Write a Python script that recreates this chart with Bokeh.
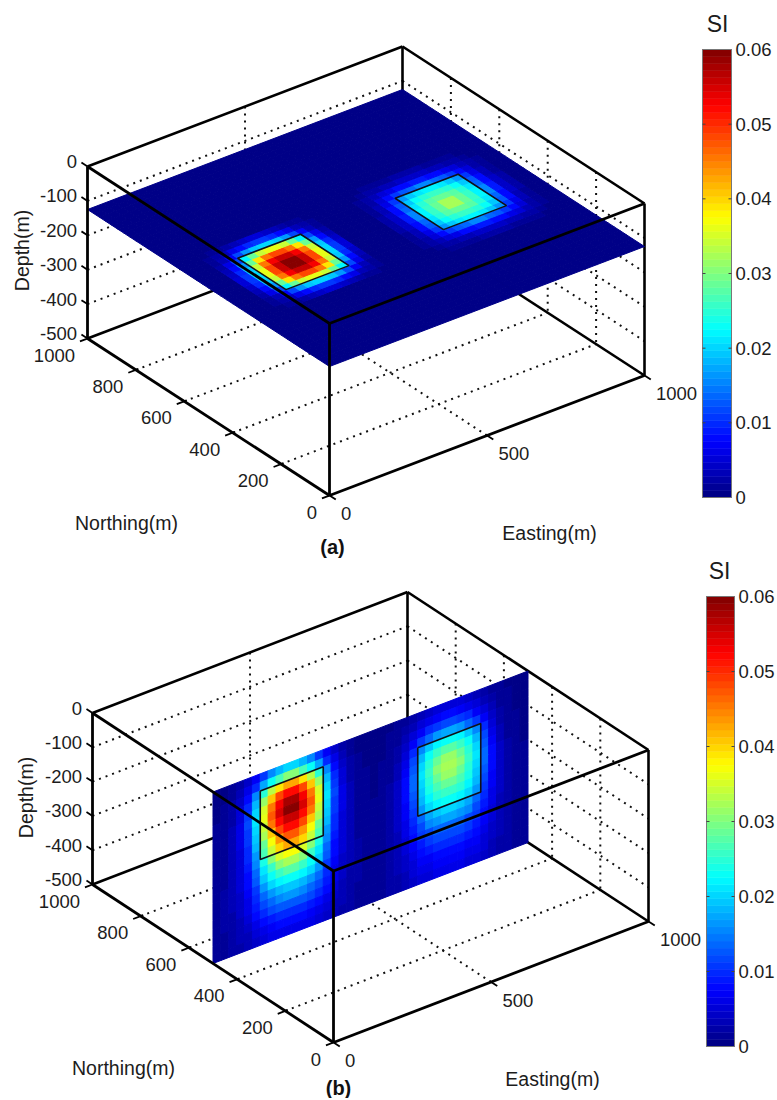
import numpy as np
from bokeh.core.properties import value
from bokeh.embed import file_html
from bokeh.layouts import column
from bokeh.models import Range1d
from bokeh.plotting import figure
from bokeh.resources import INLINE

# ---------- data: susceptibility, in 0.001 SI ----------
cell_size = 25  # metres
depth_ticks = [0, -100, -200, -300, -400, -500]
north_ticks = [0, 200, 400, 600, 800, 1000]
east_ticks = [0, 500, 1000]
colorbar_ticks = [0, 0.01, 0.02, 0.03, 0.04, 0.05, 0.06]
colorbar_labels = ["0", "0.01", "0.02", "0.03", "0.04", "0.05", "0.06"]

# block outlines: (east0, east1, north0, north1, depth0, depth1)
block_west = (150, 350, 375, 575, -50, -250)
block_east = (650, 850, 375, 575, -100, -300)
horizontal_slice_depth = -125
vertical_slice_north = 500

# horizontal slice (a): rows go along northing from north index 12, cols along easting from index 3
a_west_north_start, a_west_east_start = 12, 3
a_west = [
    [0, 1, 1, 2, 3, 4, 5, 5, 4, 3, 2, 1, 1, 0],
    [1, 2, 3, 6, 8, 10, 11, 11, 10, 8, 6, 3, 2, 1],
    [1, 3, 7, 12, 16, 19, 20, 20, 19, 16, 12, 7, 3, 1],
    [2, 6, 12, 22, 29, 34, 36, 36, 34, 29, 22, 12, 6, 2],
    [3, 8, 16, 29, 39, 45, 48, 48, 45, 39, 29, 16, 8, 3],
    [4, 10, 19, 34, 45, 53, 56, 56, 53, 45, 34, 19, 10, 4],
    [5, 11, 20, 36, 48, 56, 60, 60, 56, 48, 36, 20, 11, 5],
    [5, 11, 20, 36, 48, 56, 60, 60, 56, 48, 36, 20, 11, 5],
    [4, 10, 19, 34, 45, 53, 56, 56, 53, 45, 34, 19, 10, 4],
    [3, 8, 16, 29, 39, 45, 48, 48, 45, 39, 29, 16, 8, 3],
    [2, 6, 12, 22, 29, 34, 36, 36, 34, 29, 22, 12, 6, 2],
    [1, 3, 7, 12, 16, 19, 20, 20, 19, 16, 12, 7, 3, 1],
    [1, 2, 3, 6, 8, 10, 11, 11, 10, 8, 6, 3, 2, 1],
    [0, 1, 1, 2, 3, 4, 5, 5, 4, 3, 2, 1, 1, 0],
]
a_east_north_start, a_east_east_start = 11, 22
a_east = [
    [0, 0, 1, 1, 1, 1, 2, 2, 2, 2, 1, 1, 1, 1, 0, 0],
    [0, 1, 2, 2, 3, 3, 4, 4, 4, 4, 3, 3, 2, 2, 1, 0],
    [1, 2, 3, 5, 6, 8, 8, 9, 9, 8, 8, 6, 5, 3, 2, 1],
    [1, 2, 5, 8, 11, 13, 14, 15, 15, 14, 13, 11, 8, 5, 2, 1],
    [1, 3, 6, 11, 16, 19, 21, 22, 22, 21, 19, 16, 11, 6, 3, 1],
    [1, 3, 8, 13, 19, 23, 25, 26, 26, 25, 23, 19, 13, 8, 3, 1],
    [2, 4, 8, 14, 21, 25, 28, 29, 29, 28, 25, 21, 14, 8, 4, 2],
    [2, 4, 9, 15, 22, 26, 29, 32, 32, 29, 26, 22, 15, 9, 4, 2],
    [2, 4, 9, 15, 22, 26, 29, 32, 32, 29, 26, 22, 15, 9, 4, 2],
    [2, 4, 8, 14, 21, 25, 28, 29, 29, 28, 25, 21, 14, 8, 4, 2],
    [1, 3, 8, 13, 19, 23, 25, 26, 26, 25, 23, 19, 13, 8, 3, 1],
    [1, 3, 6, 11, 16, 19, 21, 22, 22, 21, 19, 16, 11, 6, 3, 1],
    [1, 2, 5, 8, 11, 13, 14, 15, 15, 14, 13, 11, 8, 5, 2, 1],
    [1, 2, 3, 5, 6, 8, 8, 9, 9, 8, 8, 6, 5, 3, 2, 1],
    [0, 1, 2, 2, 3, 3, 4, 4, 4, 4, 3, 3, 2, 2, 1, 0],
    [0, 0, 1, 1, 1, 1, 2, 2, 2, 2, 1, 1, 1, 1, 0, 0],
]

# vertical slice (b): rows go down in depth, cols along easting; west half and east half
b_west = [
    [0, 0, 1, 2, 4, 7, 11, 15, 18, 20, 20, 18, 15, 11, 7, 4, 2, 1, 0, 0],
    [0, 0, 1, 3, 6, 10, 17, 23, 27, 30, 30, 27, 23, 17, 10, 6, 3, 1, 0, 0],
    [0, 1, 2, 4, 8, 15, 25, 33, 39, 43, 43, 39, 33, 25, 15, 8, 4, 2, 1, 0],
    [0, 1, 2, 5, 10, 18, 31, 41, 48, 52, 52, 48, 41, 31, 18, 10, 5, 2, 1, 0],
    [1, 1, 2, 5, 11, 20, 35, 45, 53, 58, 58, 53, 45, 35, 20, 11, 5, 2, 1, 1],
    [1, 1, 3, 6, 12, 21, 36, 47, 55, 60, 60, 55, 47, 36, 21, 12, 6, 3, 1, 1],
    [1, 1, 3, 6, 11, 20, 34, 45, 52, 56, 56, 52, 45, 34, 20, 11, 6, 3, 1, 1],
    [1, 1, 3, 6, 11, 19, 32, 41, 48, 52, 52, 48, 41, 32, 19, 11, 6, 3, 1, 1],
    [1, 1, 3, 5, 10, 18, 29, 37, 44, 47, 47, 44, 37, 29, 18, 10, 5, 3, 1, 1],
    [1, 1, 3, 5, 10, 16, 27, 34, 40, 43, 43, 40, 34, 27, 16, 10, 5, 3, 1, 1],
    [1, 1, 3, 5, 9, 15, 24, 30, 35, 37, 37, 35, 30, 24, 15, 9, 5, 3, 1, 1],
    [1, 1, 3, 5, 8, 14, 21, 26, 30, 32, 32, 30, 26, 21, 14, 8, 5, 3, 1, 1],
    [1, 2, 3, 5, 8, 13, 19, 23, 26, 28, 28, 26, 23, 19, 13, 8, 5, 3, 2, 1],
    [1, 2, 3, 4, 7, 11, 16, 20, 22, 23, 23, 22, 20, 16, 11, 7, 4, 3, 2, 1],
    [1, 2, 3, 4, 6, 10, 14, 16, 18, 19, 19, 18, 16, 14, 10, 6, 4, 3, 2, 1],
    [1, 2, 2, 4, 6, 9, 12, 14, 15, 16, 16, 15, 14, 12, 9, 6, 4, 2, 2, 1],
    [1, 2, 2, 3, 5, 8, 10, 12, 13, 13, 13, 13, 12, 10, 8, 5, 3, 2, 2, 1],
    [1, 1, 2, 3, 4, 6, 8, 9, 10, 10, 10, 10, 9, 8, 6, 4, 3, 2, 1, 1],
    [1, 1, 2, 3, 3, 5, 6, 7, 8, 8, 8, 8, 7, 6, 5, 3, 3, 2, 1, 1],
    [1, 1, 2, 2, 3, 4, 5, 6, 6, 6, 6, 6, 6, 5, 4, 3, 2, 2, 1, 1],
]
b_east = [
    [0, 0, 0, 1, 1, 2, 3, 4, 5, 5, 5, 5, 4, 3, 2, 1, 1, 0, 0, 0],
    [0, 0, 1, 1, 2, 3, 5, 6, 7, 8, 8, 7, 6, 5, 3, 2, 1, 1, 0, 0],
    [0, 0, 1, 1, 3, 5, 7, 10, 11, 12, 12, 11, 10, 7, 5, 3, 1, 1, 0, 0],
    [0, 0, 1, 2, 4, 7, 11, 14, 16, 17, 17, 16, 14, 11, 7, 4, 2, 1, 0, 0],
    [0, 1, 1, 2, 5, 10, 15, 19, 22, 23, 23, 22, 19, 15, 10, 5, 2, 1, 1, 0],
    [0, 1, 1, 3, 6, 12, 18, 23, 26, 28, 28, 26, 23, 18, 12, 6, 3, 1, 1, 0],
    [0, 1, 1, 3, 7, 13, 20, 25, 29, 31, 31, 29, 25, 20, 13, 7, 3, 1, 1, 0],
    [0, 1, 2, 4, 8, 14, 21, 26, 30, 32, 32, 30, 26, 21, 14, 8, 4, 2, 1, 0],
    [1, 1, 2, 4, 8, 14, 20, 25, 29, 31, 31, 29, 25, 20, 14, 8, 4, 2, 1, 1],
    [1, 1, 2, 4, 8, 13, 19, 24, 27, 29, 29, 27, 24, 19, 13, 8, 4, 2, 1, 1],
    [1, 1, 2, 4, 7, 12, 18, 22, 25, 26, 26, 25, 22, 18, 12, 7, 4, 2, 1, 1],
    [1, 1, 2, 4, 7, 11, 16, 20, 22, 23, 23, 22, 20, 16, 11, 7, 4, 2, 1, 1],
    [1, 1, 2, 4, 6, 10, 14, 17, 19, 20, 20, 19, 17, 14, 10, 6, 4, 2, 1, 1],
    [1, 1, 2, 3, 6, 9, 12, 15, 16, 17, 17, 16, 15, 12, 9, 6, 3, 2, 1, 1],
    [1, 1, 2, 3, 5, 8, 11, 12, 14, 14, 14, 14, 12, 11, 8, 5, 3, 2, 1, 1],
    [1, 1, 2, 3, 5, 7, 9, 11, 12, 12, 12, 12, 11, 9, 7, 5, 3, 2, 1, 1],
    [1, 1, 2, 3, 4, 6, 8, 9, 10, 10, 10, 10, 9, 8, 6, 4, 3, 2, 1, 1],
    [1, 1, 2, 3, 4, 5, 7, 7, 8, 8, 8, 8, 7, 7, 5, 4, 3, 2, 1, 1],
    [1, 1, 2, 2, 3, 5, 6, 6, 7, 7, 7, 7, 6, 6, 5, 3, 2, 2, 1, 1],
    [1, 1, 2, 2, 3, 4, 5, 5, 6, 6, 6, 6, 5, 5, 4, 3, 2, 2, 1, 1],
]

# ---------- layout ----------
FONT = value("Liberation Sans")
INK = "#1c1c1c"
TICK_PX = "18.5px"
TITLE_PX = "19.5px"
PAGE_X = (0, 776)

PANEL_A = dict(
    y_range=(558, 0), origin=(329, 495), east=(0.315, -0.120), north=(-0.242, -0.157), depth=0.344,
    cbar=(702, 731, 49, 497), si=(717, 23), letter="(a)", letter_xy=(332, 546),
    depth_xy=(21, 250), north_xy=(126, 522), east_xy=(549, 532),
)
PANEL_B = dict(
    y_range=(1098, 558), origin=(333, 1042), east=(0.315, -0.121), north=(-0.241, -0.158), depth=0.343,
    cbar=(706, 734, 596, 1046), si=(719, 570), letter="(b)", letter_xy=(338, 1087),
    depth_xy=(25, 797), north_xy=(123, 1067), east_xy=(552, 1078),
)


def jet(v):
    i = min(int(v / 0.06 * 64), 63)
    t = (i + 0.5) / 64
    r = np.clip(min(4 * t - 1.5, -4 * t + 4.5), 0, 1)
    g = np.clip(min(4 * t - 0.5, -4 * t + 3.5), 0, 1)
    b = np.clip(min(4 * t + 0.5, -4 * t + 2.5), 0, 1)
    return "#%02x%02x%02x" % (int(r * 255), int(g * 255), int(b * 255))


def draw_panel(g, kind):
    ox, oy = g["origin"]
    ex, ey = g["east"]
    nx, ny = g["north"]
    dz = g["depth"]

    def sx(e, n):
        return ox + ex * e + nx * n

    def sy(e, n, d):
        return oy + ey * e + ny * n - dz * (d + 500)

    def seg(a, b):
        return [sx(a[0], a[1]), sx(b[0], b[1])], [sy(*a), sy(*b)]

    def lines(p, segs, **kw):
        xs, ys = zip(*[seg(a, b) for a, b in segs])
        p.multi_line(list(xs), list(ys), line_color="black", **kw)

    p = figure(
        width=PAGE_X[1] - PAGE_X[0], height=g["y_range"][0] - g["y_range"][1],
        x_range=Range1d(*PAGE_X), y_range=Range1d(*g["y_range"]),
        x_axis_location=None, y_axis_location=None, toolbar_location=None,
        output_backend="svg", min_border=0, outline_line_color=None,
    )
    p.grid.visible = False

    # dotted grids on back walls and floor
    dots = []
    for d in depth_ticks[1:-1]:
        dots.append(((0, 1000, d), (1000, 1000, d)))
        dots.append(((1000, 1000, d), (1000, 0, d)))
    for n in north_ticks[1:-1]:
        dots.append(((1000, n, 0), (1000, n, -500)))
        dots.append(((0, n, -500), (1000, n, -500)))
    dots.append(((500, 1000, 0), (500, 1000, -500)))
    dots.append(((500, 0, -500), (500, 1000, -500)))
    xs, ys = zip(*[seg(a, b) for a, b in dots])
    p.multi_line(list(xs), list(ys), line_color="#111111", line_width=2, line_dash="2 5")

    # back edges of the box
    back = [
        ((0, 1000, 0), (1000, 1000, 0)), ((1000, 1000, 0), (1000, 0, 0)),
        ((1000, 1000, 0), (1000, 1000, -500)), ((0, 1000, -500), (1000, 1000, -500)),
        ((1000, 1000, -500), (1000, 0, -500)), ((1000, 0, 0), (1000, 0, -500)),
    ]
    lines(p, back, line_width=2.6)

    # the slice
    px, py, col = [], [], []
    if kind == "horizontal":
        grid = np.zeros((40, 40), dtype=int)
        for table, n0, e0 in ((a_west, a_west_north_start, a_west_east_start),
                              (a_east, a_east_north_start, a_east_east_start)):
            t = np.array(table)
            grid[n0:n0 + t.shape[0], e0:e0 + t.shape[1]] = t
        d = horizontal_slice_depth
        for i in range(40):
            for j in range(40):
                e0, e1 = j * cell_size, (j + 1) * cell_size
                n0, n1 = i * cell_size, (i + 1) * cell_size
                corners = [(e0, n0), (e1, n0), (e1, n1), (e0, n1)]
                px.append([sx(a, b) for a, b in corners])
                py.append([sy(a, b, d) for a, b in corners])
                col.append(jet(grid[i, j] / 1000))
        outlines = []
        for b in (block_west, block_east):
            c = [(b[0], b[2]), (b[1], b[2]), (b[1], b[3]), (b[0], b[3]), (b[0], b[2])]
            outlines.append(([sx(a, q) for a, q in c], [sy(a, q, d) for a, q in c]))
    else:
        grid = np.hstack([np.array(b_west), np.array(b_east)])
        n = vertical_slice_north
        for i in range(grid.shape[0]):
            for j in range(grid.shape[1]):
                e0, e1 = j * cell_size, (j + 1) * cell_size
                d0, d1 = -i * cell_size, -(i + 1) * cell_size
                corners = [(e0, d0), (e1, d0), (e1, d1), (e0, d1)]
                px.append([sx(a, n) for a, _ in corners])
                py.append([sy(a, n, q) for a, q in corners])
                col.append(jet(grid[i, j] / 1000))
        outlines = []
        for b in (block_west, block_east):
            c = [(b[0], b[4]), (b[1], b[4]), (b[1], b[5]), (b[0], b[5]), (b[0], b[4])]
            outlines.append(([sx(a, n) for a, _ in c], [sy(a, n, q) for a, q in c]))
    p.patches(px, py, fill_color=col, line_color=col, line_width=1)
    p.multi_line([o[0] for o in outlines], [o[1] for o in outlines],
                 line_color="#101018", line_width=1.6)

    # front edges and axes
    front = [
        ((0, 1000, 0), (0, 0, 0)), ((0, 0, 0), (1000, 0, 0)), ((0, 0, 0), (0, 0, -500)),
        ((0, 1000, 0), (0, 1000, -500)), ((0, 1000, -500), (0, 0, -500)),
        ((0, 0, -500), (1000, 0, -500)),
    ]
    lines(p, front, line_width=2.8)

    # tick marks
    ticks = [((0, 1000, d), (0, 1025, d)) for d in depth_ticks]
    ticks += [((-24, n, -500), (8, n, -500)) for n in north_ticks]
    ticks += [((e, -26, -500), (e, 6, -500)) for e in east_ticks]
    lines(p, ticks, line_width=1.8)

    # tick labels
    tx = dict(text_font=FONT, text_font_size=value(TICK_PX), text_color=INK, text_baseline="middle")
    p.text([sx(0, 1000) - 10.5] * len(depth_ticks),
           [sy(0, 1000, d) - 5 for d in depth_ticks],
           text=[str(d) for d in depth_ticks], text_align="right", **tx)
    p.text([sx(0, n) - 12.5 for n in north_ticks],
           [sy(0, n, -500) + 16.5 for n in north_ticks],
           text=[str(n) for n in north_ticks], text_align="right", **tx)
    p.text([sx(e, 0) + 11.5 for e in east_ticks],
           [sy(e, 0, -500) + 18 for e in east_ticks],
           text=[str(e) for e in east_ticks], text_align="left", **tx)

    # axis titles
    tt = dict(text_font=FONT, text_font_size=value(TITLE_PX), text_color=INK,
              text_baseline="middle", text_align="center")
    p.text([g["depth_xy"][0]], [g["depth_xy"][1]], text=["Depth(m)"], angle=np.pi / 2, **tt)
    p.text([g["north_xy"][0]], [g["north_xy"][1]], text=["Northing(m)"], **tt)
    p.text([g["east_xy"][0]], [g["east_xy"][1]], text=["Easting(m)"], **tt)
    p.text([g["letter_xy"][0]], [g["letter_xy"][1]], text=[g["letter"]],
           text_font=FONT, text_font_size=value("20px"), text_font_style="bold",
           text_color="#111111", text_baseline="middle", text_align="center")

    # colour bar
    x0, x1, top, bot = g["cbar"]
    def cy(v):
        return bot + (top - bot) * v / 0.06
    levels = np.arange(64)
    p.quad(left=x0, right=x1,
           bottom=[cy(k * 0.06 / 64) for k in levels],
           top=[cy((k + 1) * 0.06 / 64) for k in levels],
           fill_color=[jet((k + 0.5) * 0.06 / 64) for k in levels],
           line_color=[jet((k + 0.5) * 0.06 / 64) for k in levels], line_width=0.5)
    p.quad(left=[x0], right=[x1], top=[cy(0.06)], bottom=[cy(0)], fill_color=None,
           line_color="#777777", line_width=1)
    inner = colorbar_ticks[1:-1]
    p.multi_line([[x0, x0 + 3] for _ in inner] + [[x1 - 3, x1] for _ in inner],
                 [[cy(v), cy(v)] for v in inner] * 2, line_color="#444444", line_width=1)
    p.text([x1 + 4] * len(colorbar_ticks), [cy(v) for v in colorbar_ticks], text=colorbar_labels,
           text_align="left", **tx)
    p.text([g["si"][0]], [g["si"][1]], text=["SI"], text_font=FONT, text_font_size=value("23px"),
           text_color=INK, text_baseline="middle", text_align="center")
    return p


page = column(draw_panel(PANEL_A, "horizontal"), draw_panel(PANEL_B, "vertical"), spacing=0)
open("out.html", "w").write(file_html(page, INLINE))
